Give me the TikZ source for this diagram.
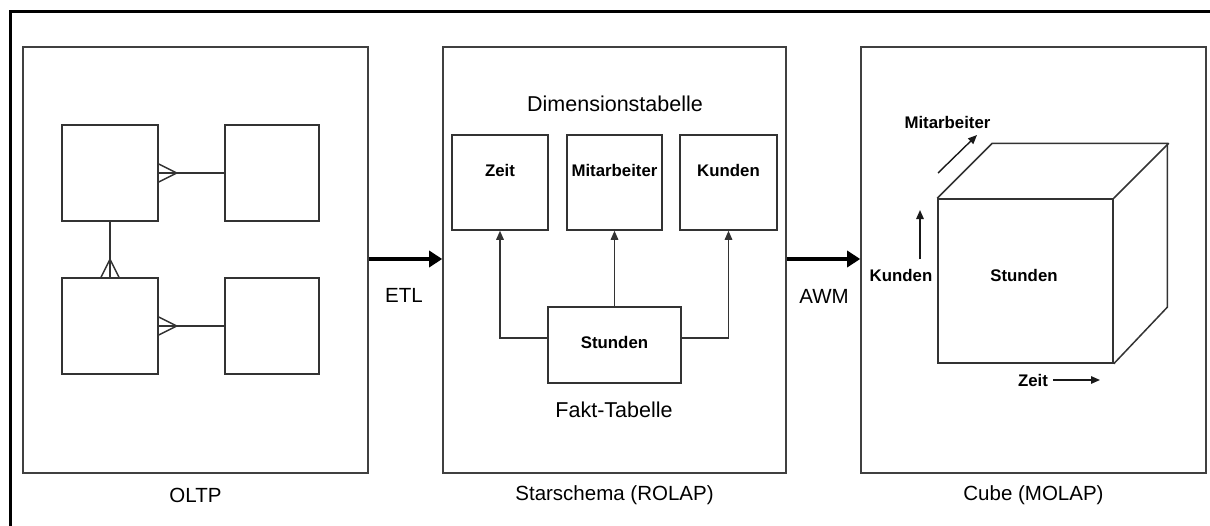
\documentclass[tikz,border=0pt]{standalone}
\usepackage{fontspec}
\setmainfont{Liberation Sans}
\usetikzlibrary{arrows.meta}
\begin{document}
\begin{tikzpicture}[x=1pt,y=-1pt,
  panel/.style={draw=black!75, line width=1.6pt, inner sep=0pt, minimum height=426pt},
  ebox/.style={draw=black!80, line width=1.5pt, inner sep=0pt},
  conn/.style={draw=black!80, line width=1.5pt},
  title/.style={font=\fontsize{20.5}{24}\selectfont, inner sep=0pt},
  btitle/.style={font=\fontsize{21.5}{25}\selectfont, inner sep=0pt},
  lbl/.style={font=\bfseries\fontsize{16.8}{20}\selectfont, inner sep=0pt},
  bigarrow/.style={line width=4.5pt, -{Triangle[length=13pt,width=16pt]}},
  smallarrow/.style={line width=1.4pt, -{Triangle[length=9pt,width=7.5pt]}},
  ]
\useasboundingbox (0,0) rectangle (1210,525);
\fill[white] (0,0) rectangle (1210,525);
% outer frame (partly visible)
\draw[line width=3pt] (10,530) -- (10,11) -- (1215,11);

% panels
\node[panel, minimum width=345pt] (P1) at (195.5,260) {};
\node[panel, minimum width=343pt] (P2) at (614.5,260) {};
\node[panel, minimum width=345pt] (P3) at (1033.5,260) {};

% bottom titles
\node[title] (t1) at (195.5,495) {OLTP};
\node[title] (t2) at (614.5,495) {Starschema (ROLAP)};
\node[title] (t3) at (1033.5,495) {Cube (MOLAP)};

% big arrows
\draw[bigarrow] ([yshift=1pt]P1.east) -- ([yshift=1pt]P2.west);
\draw[bigarrow] ([yshift=1pt]P2.east) -- ([yshift=1pt]P3.west);
\node[title] (etl) at (404,295) {ETL};
\node[title] (awm) at (824,296) {AWM};

% ---- OLTP entity boxes
\node[ebox, minimum width=96pt, minimum height=96pt] (A) at (110,173) {};
\node[ebox, minimum width=94pt, minimum height=96pt] (B) at (272,173) {};
\node[ebox, minimum width=96pt, minimum height=96pt] (C) at (110,326) {};
\node[ebox, minimum width=94pt, minimum height=96pt] (D) at (272,326) {};
\draw[conn] (A.east) -- (B.west);
\draw[conn] ([yshift=9pt]A.east) -- ([xshift=18pt]A.east) -- ([yshift=-9pt]A.east);
\draw[conn] (C.east) -- (D.west);
\draw[conn] ([yshift=9pt]C.east) -- ([xshift=18pt]C.east) -- ([yshift=-9pt]C.east);
\draw[conn] (A.south) -- (C.north);
\draw[conn] ([xshift=-9pt]C.north) -- ([yshift=18pt]C.north) -- ([xshift=9pt]C.north);

% ---- Star schema
\node[btitle] (dim) at (615,104) {Dimensionstabelle};
\node[ebox, minimum width=96pt, minimum height=95pt] (Zt) at (500,182.5) {};
\node[ebox, minimum width=95pt, minimum height=95pt] (Mi) at (614.5,182.5) {};
\node[ebox, minimum width=97pt, minimum height=95pt] (Ku) at (728.5,182.5) {};
\node[lbl] (Ztl) at (500,170) {Zeit};
\node[lbl] (Mil) at (614.5,170) {Mitarbeiter};
\node[lbl] (Kul) at (728.5,170) {Kunden};
\node[ebox, minimum width=133pt, minimum height=76pt] (St) at (614.5,345) {};
\node[lbl] (Stl) at (614.5,342) {Stunden};
\node[btitle] (fakt) at (614,410) {Fakt-Tabelle};
\draw[conn, smallarrow] ([yshift=7pt]St.west) -| (Zt.south);
\draw[conn, smallarrow] (St.north) -- (Mi.south);
\draw[conn, smallarrow] ([yshift=7pt]St.east) -| (Ku.south);

% ---- Cube
\node[ebox, minimum width=175pt, minimum height=164pt] (front) at (1025.5,281) {};
\draw[conn, line join=miter] (front.north west) -- ++(55,-55) -- ++(175,0) -- ++(0,164) -- (front.south east);
\draw[conn] (front.north east) -- ++(55,-55);
\node[lbl] (cs) at (1024,275) {Stunden};
\node[lbl] (ck) at (901,275) {Kunden};
\node[lbl] (cm) at (947.5,122) {Mitarbeiter};
\node[lbl] (cz) at (1033,380) {Zeit};
\coordinate (k0) at (920,259);
\coordinate (k1) at (920,210);
\coordinate (m0) at (938,173);
\coordinate (m1) at (977,135);
\coordinate (z0) at (1053,380);
\coordinate (z1) at (1100,380);
\draw[smallarrow, black!90] (k0) -- (k1);
\draw[smallarrow, black!90] (m0) -- (m1);
\draw[smallarrow, black!90] (z0) -- (z1);
\end{tikzpicture}
\end{document}
